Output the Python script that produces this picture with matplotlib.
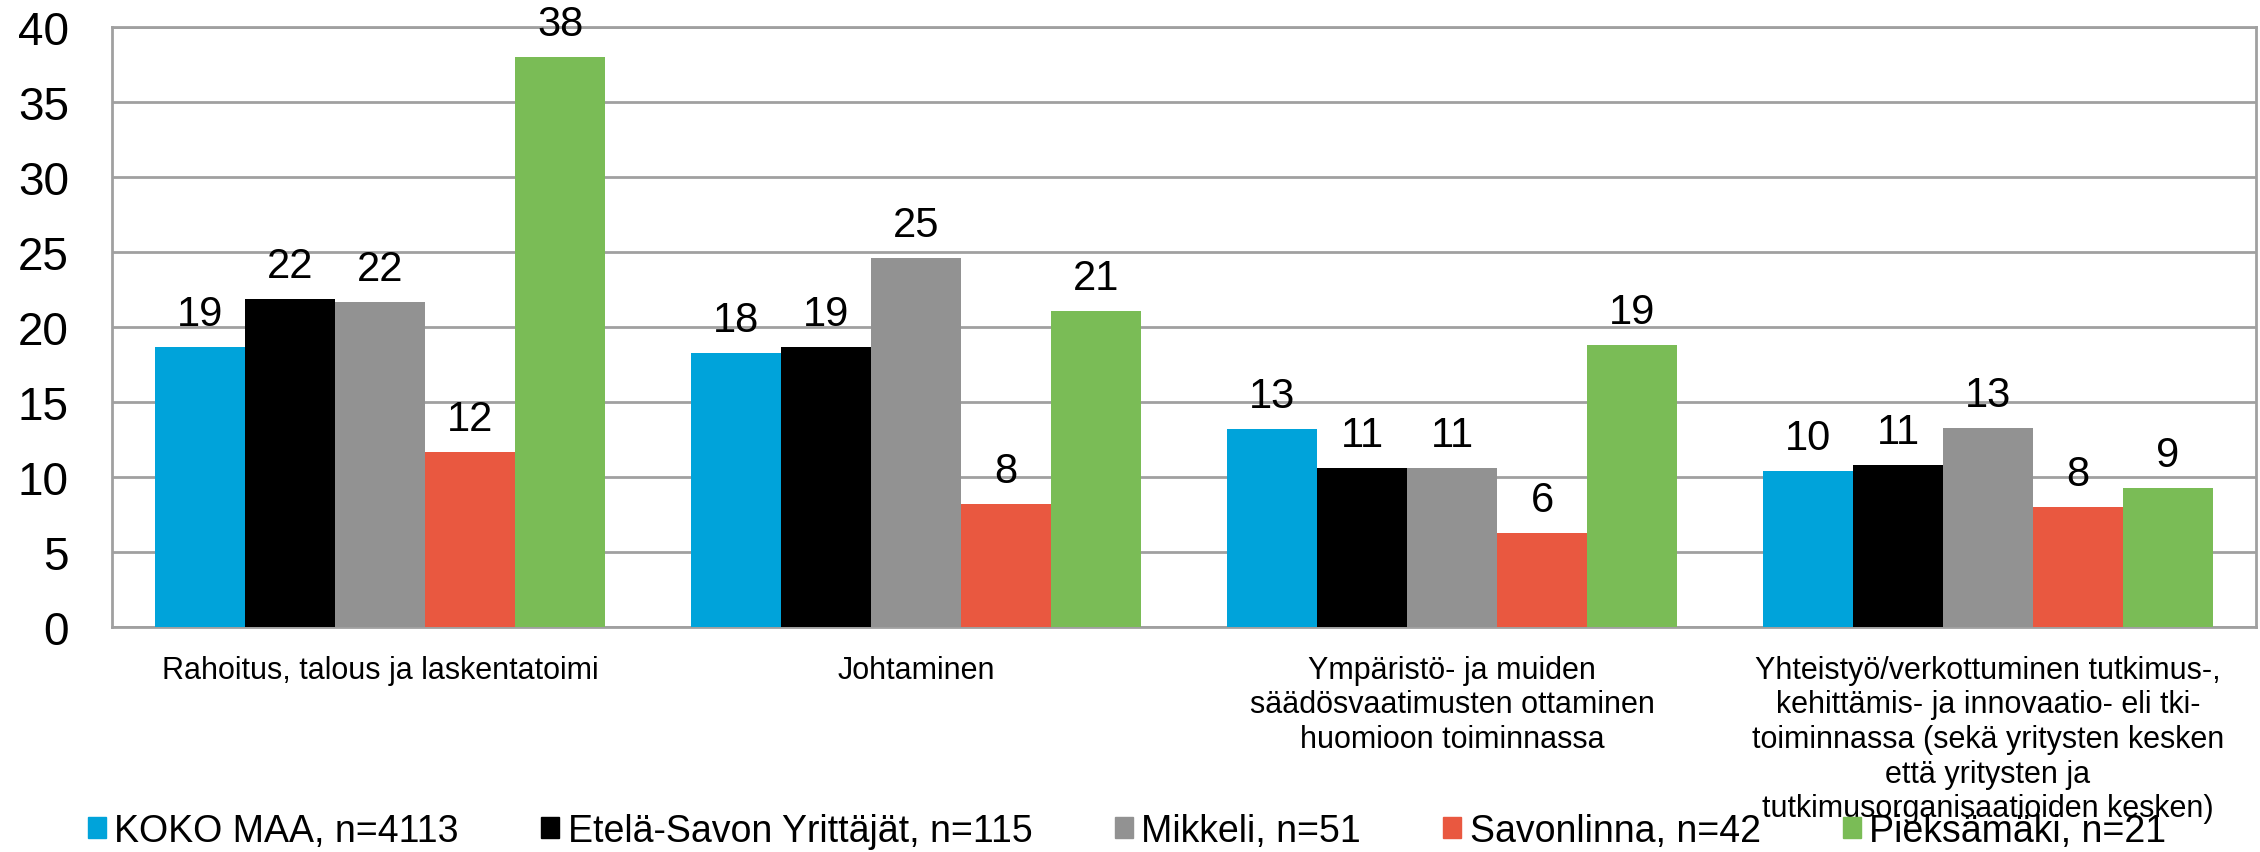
import matplotlib.pyplot as plt
import numpy as np
from matplotlib.patches import Patch

plt.rcParams['font.family'] = ['Liberation Sans', 'DejaVu Sans']

# categories
categories = ['Rahoitus, talous ja laskentatoimi',
              'Johtaminen',
              'Ympäristö- ja muiden\nsäädösvaatimusten ottaminen\nhuomioon toiminnassa',
              'Yhteistyö/verkottuminen tutkimus-,\nkehittämis- ja innovaatio- eli tki-\n'
              'toiminnassa (sekä yritysten kesken\nettä yritysten ja\ntutkimusorganisaatioiden kesken)']

series_names = ['KOKO MAA, n=4113', 'Etelä-Savon Yrittäjät, n=115', 'Mikkeli, n=51',
                'Savonlinna, n=42', 'Pieksämäki, n=21']

koko_maa = [18.7, 18.3, 13.2, 10.4]
etela_savo = [21.9, 18.7, 10.6, 10.8]
mikkeli = [21.7, 24.6, 10.6, 13.3]
savonlinna = [11.7, 8.2, 6.3, 8.0]
pieksamaki = [38.0, 21.1, 18.8, 9.3]

colors = ['#00a3da', '#000000', '#929292', '#e95840', '#7abc56']

fig = plt.figure(figsize=(22.6, 8.53), dpi=100)
ax = fig.add_axes([112/2260, 1-628/853, (2256-112)/2260, 600/853])

x = np.arange(len(categories))
w = 0.168
data = [koko_maa, etela_savo, mikkeli, savonlinna, pieksamaki]
for i, vals in enumerate(data):
    bars = ax.bar(x + (i-2)*w, vals, w, color=colors[i], zorder=3)
    ax.bar_label(bars, labels=[f'{v:.0f}' for v in vals], padding=9, fontsize=30)

ax.set_xlim(-0.5, 3.5)
ax.set_ylim(0, 40)
ax.set_yticks(range(0, 41, 5))
ax.yaxis.grid(True, color='#a0a0a0', linewidth=2, zorder=0)
ax.set_axisbelow(True)
for s in ax.spines.values():
    s.set_color('#a0a0a0')
    s.set_linewidth(2)
ax.set_xticks(x)
ax.set_xticklabels(categories, fontsize=22, va='top', ha='center', multialignment='center')
ax.tick_params(axis='x', length=0, pad=20)
ax.tick_params(axis='y', length=0, pad=31, labelsize=33)

# legend sits under the plot and overlaps the last label, like the original
handles = [Patch(color=c) for c in colors]
fig.legend(handles, series_names, loc='lower left', bbox_to_anchor=(0.039, 0.004),
           ncol=5, frameon=False, fontsize=27, handlelength=0.48, handleheight=0.48,
           handletextpad=0.22, columnspacing=2.2, borderpad=0, borderaxespad=0)

fig.savefig('out.png', dpi=100)
